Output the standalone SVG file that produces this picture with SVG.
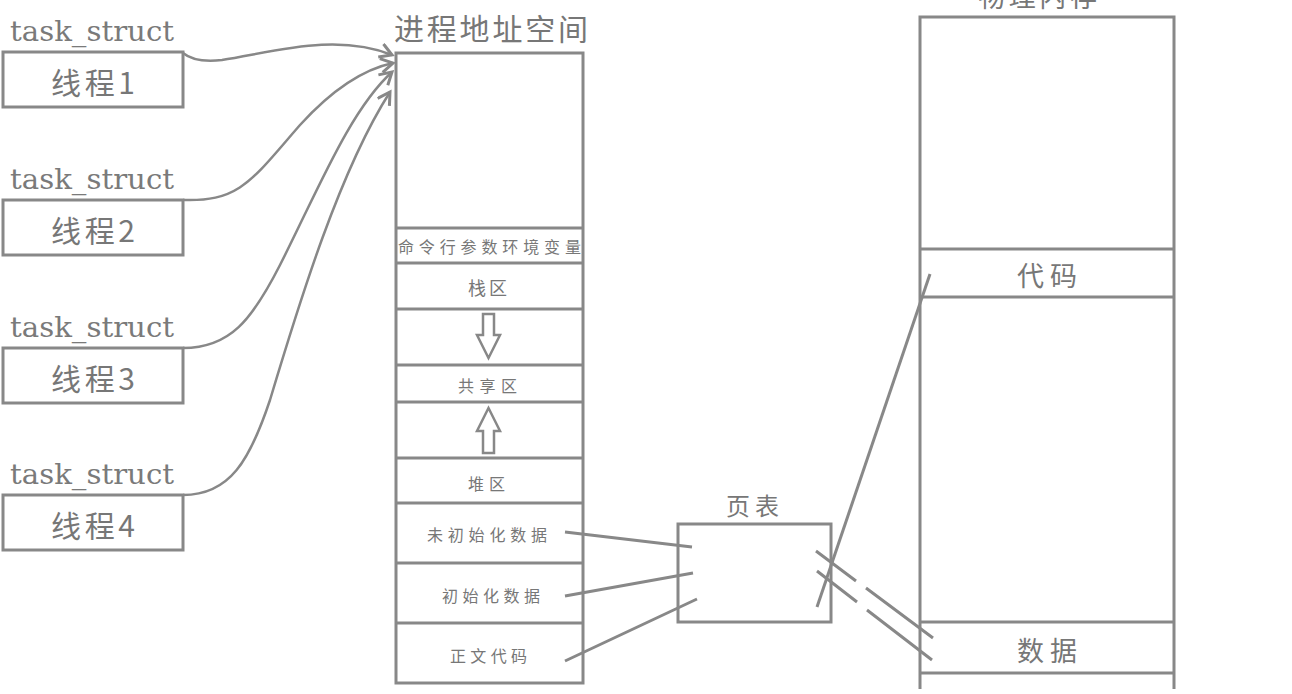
<svg xmlns="http://www.w3.org/2000/svg" width="1292" height="694" viewBox="0 0 1292 694">
<defs>
<style>
.box{fill:#fff;stroke:#888;stroke-width:3}
.ln{fill:none;stroke:#888;stroke-width:3}
.cv{fill:none;stroke:#888;stroke-width:2.5}
.conn{fill:none;stroke:#888;stroke-width:3;stroke-linecap:butt}
.ts{font-family:"DejaVu Serif","Liberation Serif",serif;font-size:27px;fill:#7a7a7a}
.cjk{font-family:"Noto Sans CJK SC","Noto Sans CJK JP",sans-serif;fill:#777}
.big{font-size:30px}
.mid{font-size:27px}
.sm{font-size:16px}
.arr{fill:#fff;stroke:#888;stroke-width:2.5}
</style>
<marker id="chev" markerUnits="userSpaceOnUse" markerWidth="20" markerHeight="20" refX="14" refY="8" orient="auto">
<path d="M2,1 L14,8 L2,15" fill="none" stroke="#888" stroke-width="3"/>
</marker>
</defs>
<rect width="1292" height="694" fill="#fff"/>

<g id="thread1">
<text class="ts" x="10" y="41" textLength="164" lengthAdjust="spacingAndGlyphs">task_struct</text>
<rect class="box" x="3" y="52" width="180" height="55"/>
<text class="cjk big" x="51" y="94" textLength="84" lengthAdjust="spacing">线程1</text>
</g>
<g id="thread2">
<text class="ts" x="10" y="189" textLength="164" lengthAdjust="spacingAndGlyphs">task_struct</text>
<rect class="box" x="3" y="200" width="180" height="55"/>
<text class="cjk big" x="51" y="242" textLength="84" lengthAdjust="spacing">线程2</text>
</g>
<g id="thread3">
<text class="ts" x="10" y="337" textLength="164" lengthAdjust="spacingAndGlyphs">task_struct</text>
<rect class="box" x="3" y="348" width="180" height="55"/>
<text class="cjk big" x="51" y="390" textLength="84" lengthAdjust="spacing">线程3</text>
</g>
<g id="thread4">
<text class="ts" x="10" y="484" textLength="164" lengthAdjust="spacingAndGlyphs">task_struct</text>
<rect class="box" x="3" y="495" width="180" height="55"/>
<text class="cjk big" x="51" y="537" textLength="84" lengthAdjust="spacing">线程4</text>
</g>

<g id="address-space">
<text class="cjk big" x="394" y="40" textLength="194" lengthAdjust="spacing">进程地址空间</text>
<rect class="box" x="396" y="53" width="187" height="630"/>
<path class="ln" d="M396,228H583M396,263H583M396,309H583M396,365H583M396,402H583M396,458H583M396,503H583M396,563H583M396,623H583"/>
<text class="cjk sm" x="398" y="253" textLength="183" lengthAdjust="spacing">命令行参数环境变量</text>
<text class="cjk" font-size="18" x="468" y="295" textLength="39" lengthAdjust="spacing">栈区</text>
<polygon class="arr" points="483,314 494,314 494,335 500,335 488.5,358 477,335 483,335"/>
<text class="cjk sm" x="458" y="392" textLength="59" lengthAdjust="spacing">共享区</text>
<polygon class="arr" points="488.5,408 500,431 494,431 494,453 483,453 483,431 477,431"/>
<text class="cjk sm" x="468" y="490" textLength="37" lengthAdjust="spacing">堆区</text>
<text class="cjk sm" x="427" y="541" textLength="120" lengthAdjust="spacing">未初始化数据</text>
<text class="cjk sm" x="442" y="602" textLength="98" lengthAdjust="spacing">初始化数据</text>
<text class="cjk sm" x="450" y="662" textLength="77" lengthAdjust="spacing">正文代码</text>
</g>

<g id="page-table">
<text class="cjk" font-size="24" x="726" y="515" textLength="53" lengthAdjust="spacing">页表</text>
<rect class="box" x="678" y="524" width="153" height="98"/>
</g>

<g id="physical-memory">
<text class="cjk mid" x="978" y="7" textLength="119" lengthAdjust="spacing">物理内存</text>
<path class="ln" d="M920,689V17H1174V689"/>
<path class="ln" d="M920,249H1174M920,297H1174M920,622H1174M920,673H1174"/>
<text class="cjk mid" x="1017" y="286" textLength="60" lengthAdjust="spacing">代码</text>
<text class="cjk mid" x="1017" y="661" textLength="60" lengthAdjust="spacing">数据</text>
</g>

<g id="connectors">
<path class="cv" marker-end="url(#chev)" d="M183,53 Q195,63 222,60 C270,53 335,32 392,55"/>
<path class="cv" marker-end="url(#chev)" d="M183,200 C240,202 252,180 300,125 C330,92 360,70 393,63"/>
<path class="cv" marker-end="url(#chev)" d="M183,348 C230,348 252,320 280,265 C318,190 350,110 392,72"/>
<path class="cv" marker-end="url(#chev)" d="M183,495 C230,495 250,460 270,400 C300,300 340,170 390,92"/>
<path class="conn" d="M565,532L692,547M565,596L693,573M565,661L697,599"/>
<path class="conn" d="M817,607L930,274"/>
<path class="conn" d="M816,551L856,581M866,588L933,638"/>
<path class="conn" d="M817,571L857,602M867,610L932,660"/>
</g>
</svg>
